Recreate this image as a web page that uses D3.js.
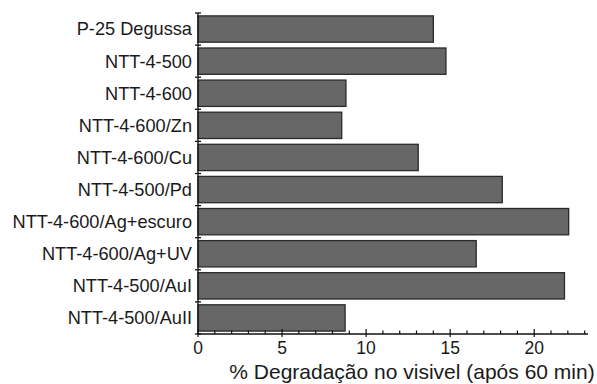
<!DOCTYPE html>
<html>
<head>
<meta charset="utf-8">
<script src="https://cdn.jsdelivr.net/npm/d3@7"></script>
<style>
  body { margin: 0; background: #fff; }
  text { font-family: "Liberation Sans", Arial, sans-serif; fill: #1a1a1a; }
</style>
</head>
<body>
<div id="mount"></div>
<script>
'use strict';

// categories, top to bottom
const samples = [
  'P-25 Degussa',
  'NTT-4-500',
  'NTT-4-600',
  'NTT-4-600/Zn',
  'NTT-4-600/Cu',
  'NTT-4-500/Pd',
  'NTT-4-600/Ag+escuro',
  'NTT-4-600/Ag+UV',
  'NTT-4-500/AuI',
  'NTT-4-500/AuII'
];

// % degradation in visible light after 60 min
const degradation = [14.0, 14.75, 8.8, 8.55, 13.1, 18.1, 22.05, 16.55, 21.8, 8.75];

const xTicks = [0, 5, 10, 15, 20];
const xLabel = '% Degradação no visivel (após 60 min)';

const W = 597, H = 384;
const margin = { top: 13, left: 198, bottom: 50, right: 9 };
const width = W - margin.left - margin.right,
      height = H - margin.top - margin.bottom;

const svg = d3.select('#mount').append('svg')
    .attr('width', W)
    .attr('height', H);

const g = svg.append('g')
    .attr('transform', `translate(${margin.left}, ${margin.top})`);

const x = d3.scaleLinear().domain([0, 23.2]).range([0, width]);
const y = d3.scaleBand().domain(samples).range([0, height]).paddingInner(0.18).paddingOuter(0.09);

const data = samples.map((s, i) => ({ name: s, value: degradation[i] }));

// bars
g.selectAll('rect.bar')
    .data(data)
  .enter().append('rect')
    .attr('class', 'bar')
    .attr('x', x(0))
    .attr('y', d => y(d.name))
    .attr('width', d => x(d.value) - x(0))
    .attr('height', y.bandwidth())
    .style('fill', '#676767')
    .style('stroke', '#2a2a2a')
    .style('stroke-width', 1.3);

// y axis: line with ticks at band boundaries
const step = y.step();
const yAxis = g.append('g').attr('class', 'y-axis');
yAxis.append('line')
    .attr('x1', 0).attr('x2', 0)
    .attr('y1', 0).attr('y2', height)
    .style('stroke', '#111').style('stroke-width', 1.3);
yAxis.selectAll('line.tick')
    .data(d3.range(samples.length + 1))
  .enter().append('line')
    .attr('class', 'tick')
    .attr('x1', -3).attr('x2', 3)
    .attr('y1', i => i * step).attr('y2', i => i * step)
    .style('stroke', '#111').style('stroke-width', 1.3);
yAxis.selectAll('text')
    .data(samples)
  .enter().append('text')
    .attr('x', -6)
    .attr('y', d => y(d) + y.bandwidth() / 2)
    .attr('dy', '0.35em')
    .attr('text-anchor', 'end')
    .style('font-size', '18.2px')
    .text(d => d);

// x axis
const xAxis = g.append('g')
    .attr('transform', `translate(0, ${height})`);
xAxis.append('line')
    .attr('x1', 0).attr('x2', width)
    .style('stroke', '#111').style('stroke-width', 1.3);
xAxis.selectAll('line.minor')
    .data(d3.range(0, 24))
  .enter().append('line')
    .attr('class', 'minor')
    .attr('x1', d => x(d)).attr('x2', d => x(d))
    .attr('y1', 0).attr('y2', d => xTicks.includes(d) ? -5 : -3.5)
    .style('stroke', '#111').style('stroke-width', 1.2);
xAxis.selectAll('line.major')
    .data(xTicks)
  .enter().append('line')
    .attr('class', 'major')
    .attr('x1', d => x(d)).attr('x2', d => x(d))
    .attr('y1', 0).attr('y2', 3)
    .style('stroke', '#111').style('stroke-width', 1.2);
xAxis.selectAll('text')
    .data(xTicks)
  .enter().append('text')
    .attr('x', d => x(d))
    .attr('y', 19.5)
    .attr('text-anchor', 'middle')
    .style('font-size', '17.5px')
    .text(d => d);

svg.append('text')
    .attr('x', 412)
    .attr('y', 379)
    .attr('text-anchor', 'middle')
    .style('font-size', '21px')
    .text(xLabel);
</script>
</body>
</html>
